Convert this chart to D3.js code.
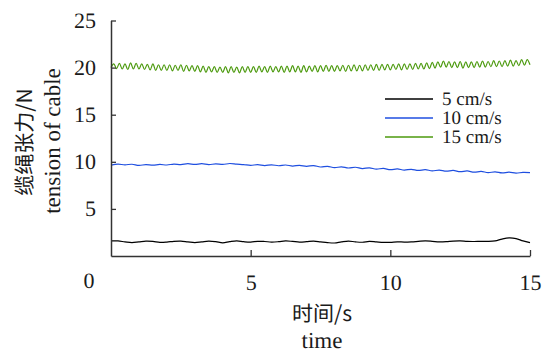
<!DOCTYPE html>
<html>
  <head>
    <meta charset="utf-8">
    <script src="https://d3js.org/d3.v7.min.js"></script>
    <style>
      body { margin: 0; background: #fff; }
      svg text { text-rendering: geometricPrecision; }
    </style>
  </head>
  <body>
    <svg width="543" height="353"></svg>
    <script>
      const seriesNames = ["5 cm/s", "10 cm/s", "15 cm/s"];
      const seriesColors = ["#000000", "#1f4fe0", "#4c9a0e"];
      const xTicks = [5, 10, 15];
      const yTicks = [5, 10, 15, 20, 25];

      // 5 cm/s, every 0.25 s
      const black = [
        1.6, 1.6, 1.5, 1.42, 1.5, 1.58, 1.55, 1.45, 1.48, 1.56, 1.58, 1.5,
        1.42, 1.5, 1.58, 1.52, 1.4, 1.52, 1.6, 1.52, 1.48, 1.56, 1.54, 1.48,
        1.52, 1.6, 1.55, 1.48, 1.52, 1.58, 1.5, 1.42, 1.38, 1.5, 1.58, 1.5,
        1.46, 1.55, 1.5, 1.45, 1.45, 1.5, 1.48, 1.5, 1.55, 1.6, 1.56, 1.5,
        1.52, 1.58, 1.6, 1.55, 1.54, 1.56, 1.55, 1.6, 1.8, 1.92, 1.85, 1.6,
        1.42
      ];
      // 10 cm/s, every 0.25 s
      const blue = [
        9.65, 9.75, 9.68, 9.74, 9.62, 9.7, 9.64, 9.72, 9.66, 9.76, 9.7, 9.8,
        9.72, 9.8, 9.7, 9.78, 9.72, 9.82, 9.75, 9.7, 9.62, 9.7, 9.6, 9.68,
        9.58, 9.66, 9.55, 9.62, 9.52, 9.6, 9.45, 9.52, 9.38, 9.46, 9.34, 9.42,
        9.28, 9.36, 9.22, 9.3, 9.16, 9.24, 9.12, 9.2, 9.08, 9.16, 9.04, 9.12,
        9.0, 9.08, 8.95, 9.03, 8.9, 8.98, 8.85, 8.93, 8.82, 8.9, 8.8, 8.88,
        8.85
      ];
      // 15 cm/s, every 0.1 s
      const green = [
        20.0, 20.4, 19.9, 20.45, 19.85, 20.4, 19.8, 20.5, 19.85, 20.45,
        19.85, 20.4, 19.8, 20.35, 19.75, 20.4, 19.7, 20.3, 19.7, 20.3,
        19.7, 20.3, 19.65, 20.25, 19.7, 20.3, 19.6, 20.25, 19.65, 20.2,
        19.6, 20.2, 19.55, 20.15, 19.5, 20.1, 19.55, 20.1, 19.5, 20.05,
        19.5, 20.1, 19.45, 20.1, 19.5, 20.05, 19.45, 20.1, 19.5, 20.1,
        19.5, 20.1, 19.5, 20.15, 19.55, 20.1, 19.5, 20.15, 19.55, 20.1,
        19.55, 20.15, 19.5, 20.15, 19.55, 20.2, 19.55, 20.15, 19.5, 20.2,
        19.55, 20.15, 19.6, 20.2, 19.55, 20.2, 19.6, 20.25, 19.6, 20.2,
        19.6, 20.2, 19.65, 20.25, 19.6, 20.25, 19.65, 20.3, 19.65, 20.25,
        19.65, 20.3, 19.7, 20.3, 19.7, 20.35, 19.7, 20.35, 19.75, 20.35,
        19.75, 20.35, 19.8, 20.4, 19.75, 20.4, 19.8, 20.4, 19.8, 20.45,
        19.85, 20.45, 19.85, 20.5, 19.9, 20.55, 19.95, 20.6, 20.05, 20.7,
        20.05, 20.65, 20.0, 20.6, 20.0, 20.65, 19.95, 20.6, 20.0, 20.6,
        20.0, 20.65, 20.05, 20.7, 20.05, 20.65, 20.1, 20.75, 20.1, 20.7,
        20.1, 20.75, 20.15, 20.8, 20.15, 20.75, 20.2, 20.85, 20.25, 20.85,
        20.3
      ];

      const serif = "'Liberation Serif', serif";
      const cjk = "'Noto Sans CJK SC', sans-serif";
      const ink = "#1a1a1a";

      const svg = d3.select("svg");

      const x = d3.scaleLinear().domain([0, 15]).range([111, 530]);
      const y = d3.scaleLinear().domain([0, 25]).range([256, 20.5]);

      const series = [
        { values: black, step: 0.25 },
        { values: blue, step: 0.25 },
        { values: green, step: 0.1 }
      ];

      const line = d3.line()
        .x(d => x(d[0]))
        .y(d => y(d[1]))
        .curve(d3.curveCatmullRom);

      series.forEach((s, i) => {
        const pts = s.values.map((v, j) => [j * s.step, v]);
        svg.append("path")
          .attr("d", line(pts))
          .attr("fill", "none")
          .attr("stroke", seriesColors[i])
          .attr("stroke-width", 1.2);
      });

      // axes with inward ticks
      const yAxis = svg.append("g")
        .attr("transform", `translate(${x(0)},0)`)
        .call(d3.axisLeft(y).tickValues(yTicks).tickSizeInner(-5).tickSizeOuter(0).tickPadding(15));
      const xAxis = svg.append("g")
        .attr("transform", `translate(0,${y(0)})`)
        .call(d3.axisBottom(x).tickValues(xTicks).tickSizeInner(-6).tickSizeOuter(0).tickPadding(18));

      [yAxis, xAxis].forEach(g => {
        g.attr("font-family", null).attr("font-size", null);
        g.select(".domain").attr("stroke", "#333").attr("stroke-width", 1.5);
        g.selectAll(".tick line").attr("stroke", "#333").attr("stroke-width", 1.3);
        g.selectAll(".tick text")
          .style("font-family", serif)
          .style("font-size", "22px")
          .style("fill", ink);
      });

      function label(xp, yp, txt, size, family, rot) {
        return svg.append("text")
          .attr("transform", `translate(${xp},${yp})` + (rot ? " rotate(-90)" : ""))
          .attr("text-anchor", "middle")
          .attr("dy", "0.35em")
          .style("font-family", family)
          .style("font-size", size + "px")
          .style("fill", ink)
          .text(txt);
      }

      // shared origin label
      label(89, 280, "0", 22, serif, false);

      // axis titles
      label(25, 142, "缆绳张力/N", 21, cjk, true);
      label(52, 141, "tension of cable", 23, serif, true);
      label(322, 314, "时间/s", 21, cjk, false);
      label(322, 340, "time", 23, serif, false);

      // legend
      const legend = svg.append("g").attr("transform", "translate(385,99)");
      seriesNames.forEach((name, i) => {
        const row = legend.append("g").attr("transform", `translate(0,${i * 19})`);
        row.append("line")
          .attr("x1", 0).attr("x2", 48)
          .attr("stroke", seriesColors[i])
          .attr("stroke-width", 1.5);
        row.append("text")
          .attr("x", 57)
          .attr("dy", "0.32em")
          .style("font-family", serif)
          .style("font-size", "19px")
          .style("fill", ink)
          .text(name);
      });
    </script>
  </body>
</html>
